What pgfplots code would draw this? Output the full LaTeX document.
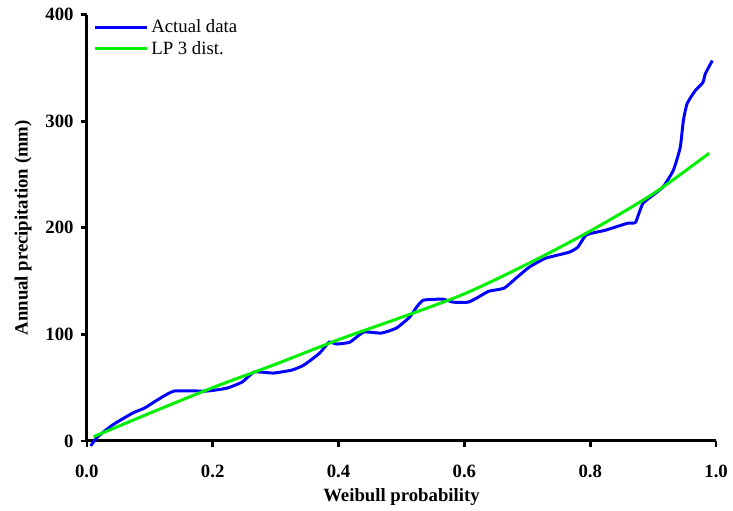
\documentclass[border=0pt]{standalone}
\usepackage{fontspec}
\setmainfont{Liberation Serif}
\usepackage{pgfplots}
\pgfplotsset{compat=1.18}

\definecolor{actblue}{RGB}{0,0,255}
\definecolor{lpgreen}{RGB}{0,240,0}

\newcommand{\bigf}{\fontsize{12}{14}\selectfont}

\begin{document}
\begin{tikzpicture}
\begin{axis}[
    scale only axis,
    width=403pt,
    height=273pt,
    xmin=0, xmax=1.0,
    ymin=0, ymax=400,
    axis x line=bottom,
    axis y line=left,
    axis line style={-, line width=1.9pt},
    tick align=outside,
    major tick length=4pt,
    tick style={line width=1.7pt, black},
    xtick={0,0.2,0.4,0.6,0.8,1.0},
    ytick={0,100,200,300,400},
    xticklabel style={/pgf/number format/fixed, /pgf/number format/fixed zerofill, /pgf/number format/precision=1, font=\bigf\bfseries, yshift=-8pt},
    yticklabel style={font=\bigf\bfseries, xshift=-1pt},
    /pgf/number format/assume math mode=true,
    xlabel={\bigf\bfseries Weibull probability},
    ylabel={\bigf\bfseries Annual precipitation (mm)},
    xlabel style={yshift=0pt},
    ylabel style={yshift=2pt},
    clip=false,
    legend style={at={(0.008,1.0)}, anchor=north west, draw=none, fill=none,
        font=\bigf, row sep=0pt, inner sep=1pt},
    legend cell align=left,
    legend image code/.code={\draw[#1] (0pt,0pt) -- (33pt,0pt);},
]
\addplot[actblue, line width=1.9pt, smooth, tension=0.3] coordinates {
    (0.006,-4.7) (0.017,3.7) (0.041,15.0) (0.073,26.2) (0.092,30.9)
    (0.112,38.4) (0.139,46.8) (0.191,46.8) (0.223,49.6) (0.247,55.3)
    (0.266,64.6) (0.297,63.7) (0.326,66.5) (0.345,71.2) (0.370,82.4)
    (0.385,92.7) (0.397,90.9) (0.418,92.7) (0.440,102.1) (0.468,101.2)
    (0.492,105.9) (0.513,116.2) (0.524,125.5) (0.535,132.1) (0.566,133.0)
    (0.582,130.2) (0.606,130.2) (0.622,134.9) (0.639,140.5) (0.663,143.3)
    (0.682,152.7) (0.703,163.0) (0.729,171.4) (0.766,177.0) (0.780,181.7)
    (0.793,193.0) (0.809,195.8) (0.824,197.7) (0.859,204.2) (0.872,205.2)
    (0.884,223.0) (0.915,237.9) (0.932,253.9) (0.943,275.4) (0.948,300.7)
    (0.954,316.6) (0.967,328.8) (0.979,336.3) (0.983,344.7) (0.994,356.9)
};
\addlegendentry{Actual data}
\addplot[lpgreen, line width=1.9pt, smooth] coordinates {
    (0.011,4) (0.1,26) (0.2,50) (0.3,72) (0.4,95) (0.5,116)
    (0.6,138) (0.7,166) (0.8,197) (0.9,232) (0.989,270)
};
\addlegendentry{LP 3 dist.}
\end{axis}
\path ([xshift=-6pt]current bounding box.west) -- ([yshift=2pt]current bounding box.north);
\end{tikzpicture}
\end{document}
